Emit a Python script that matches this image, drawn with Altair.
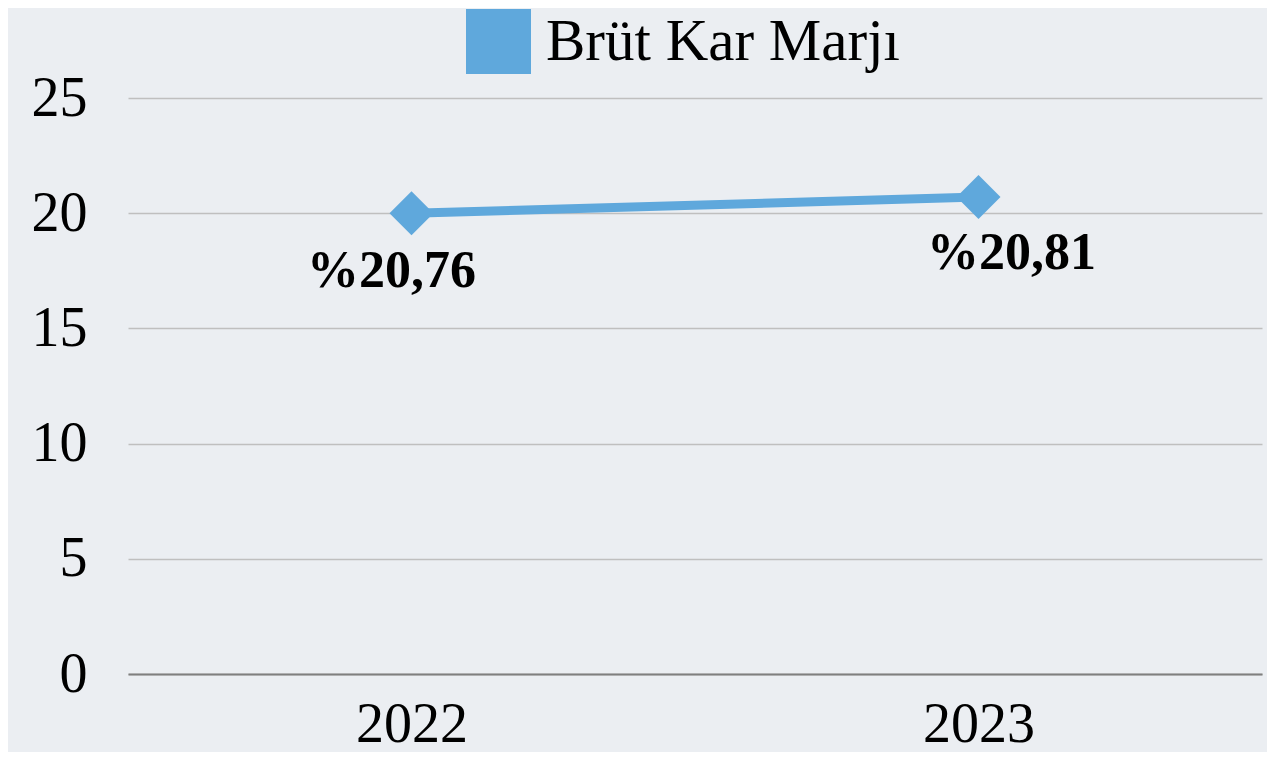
import altair as alt
import pandas as pd

years = ["2022", "2023"]
values = [20.0, 20.7]
labels = ["%20,76", "%20,81"]
series = ["Brüt Kar Marjı", "Brüt Kar Marjı"]
y_ticks = [0, 5, 10, 15, 20, 25]

df = pd.DataFrame({"year": years, "value": values, "label": labels, "series": series})

blue = "#5FA8DC"
font = "Liberation Serif"

x = alt.X("year:N", title=None, scale=alt.Scale(type="point", padding=0.5),
          axis=alt.Axis(labelAngle=0, labelFontSize=56, labelFont=font, labelColor="black",
                        labelPadding=23, ticks=False, domainColor="#7F7F7F", domainWidth=2,
                        grid=False))
y = alt.Y("value:Q", title=None, scale=alt.Scale(domain=[0, 25], nice=False),
          axis=alt.Axis(values=y_ticks, labelFontSize=56, labelFont=font, labelColor="black",
                        labelPadding=41, ticks=False, domain=False, gridColor="#BFBFBF",
                        gridWidth=1.5, minExtent=120, maxExtent=120))

base = alt.Chart(df)

line = base.mark_line(color=blue, strokeWidth=9).encode(x=x, y=y)

points = base.mark_point(shape="diamond", filled=True, size=1936, opacity=1).encode(
    x=x, y=y,
    color=alt.Color("series:N", scale=alt.Scale(range=[blue]),
                    legend=alt.Legend(title=None, orient="none", legendX=338, legendY=-89,
                                      symbolType="square", symbolSize=4225, labelFontSize=59,
                                      labelFont=font, labelColor="black", padding=0,
                                      symbolStrokeWidth=0, labelOffset=15, labelLimit=0)))

text1 = base.mark_text(font=font, fontSize=52, fontWeight="bold", dy=58, dx=-20,
                       baseline="middle", color="black").encode(
    x=x, y=y, text="label:N").transform_filter(alt.datum.year == "2022")
text2 = base.mark_text(font=font, fontSize=52, fontWeight="bold", dy=56, dx=33,
                       baseline="middle", color="black").encode(
    x=x, y=y, text="label:N").transform_filter(alt.datum.year == "2023")

chart = alt.layer(line, points, text1, text2).properties(
    width=1134, height=576,
    autosize=alt.AutoSizeParams(type="none"),
    padding={"left": 120, "top": 90, "right": 5, "bottom": 78},
    background="#EBEEF2",
).configure_view(stroke=None)

chart.save("out.html", embed_options={"renderer": "svg", "actions": False})
